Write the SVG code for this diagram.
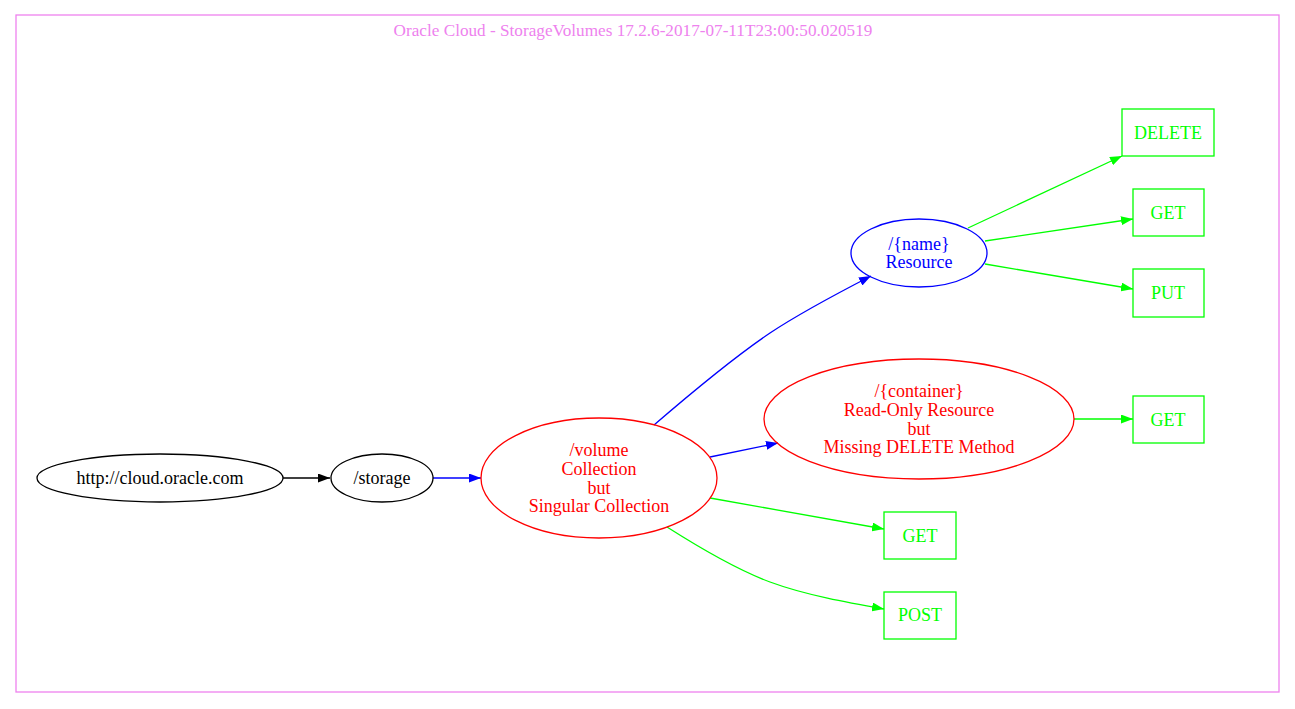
<svg xmlns="http://www.w3.org/2000/svg" width="1295" height="709" viewBox="0 0 1295 709">
<style>
text{font-family:"Liberation Serif","Times New Roman",serif;font-size:18px;text-anchor:middle}
.bk{fill:none;stroke:#000;stroke-width:1.3}
.rd{fill:none;stroke:#ff0000;stroke-width:1.3}
.bl{fill:none;stroke:#0000ff;stroke-width:1.3}
.gr{fill:none;stroke:#00ff00;stroke-width:1.3}
.tbk{fill:#000}.trd{fill:#ff0000}.tbl{fill:#0000ff}.tgr{fill:#00ff00}
</style>
<defs>
<marker id="abk" viewBox="0 0 12 9" refX="12" refY="4.5" markerWidth="12" markerHeight="9" markerUnits="userSpaceOnUse" orient="auto"><path d="M0,0L12,4.5L0,9z" fill="#000"/></marker>
<marker id="abl" viewBox="0 0 12 9" refX="12" refY="4.5" markerWidth="12" markerHeight="9" markerUnits="userSpaceOnUse" orient="auto"><path d="M0,0L12,4.5L0,9z" fill="#0000ff"/></marker>
<marker id="agr" viewBox="0 0 12 9" refX="12" refY="4.5" markerWidth="12" markerHeight="9" markerUnits="userSpaceOnUse" orient="auto"><path d="M0,0L12,4.5L0,9z" fill="#00ff00"/></marker>
</defs>
<rect x="0" y="0" width="1295" height="709" fill="#fff"/>
<g id="cluster">
<rect x="16" y="15" width="1263" height="677" fill="none" stroke="#ee82ee" stroke-width="1.3"/>
<text x="633" y="36" fill="#ee82ee" style="font-size:17.2px">Oracle Cloud - StorageVolumes 17.2.6-2017-07-11T23:00:50.020519</text>
</g>
<g id="connectors">
<path class="bk" d="M283,478L330,478" marker-end="url(#abk)"/>
<path class="bl" d="M433,478L481,478" marker-end="url(#abl)"/>
<path class="bl" d="M654,425C690,394 730,360 770,333C800,313 840,292 871,276" marker-end="url(#abl)"/>
<path class="bl" d="M710,457L778,443" marker-end="url(#abl)"/>
<path class="gr" d="M710,498L884,529" marker-end="url(#agr)"/>
<path class="gr" d="M667,527C700,548 735,569 770,582C805,595 850,603 884,609" marker-end="url(#agr)"/>
<path class="gr" d="M968,228L1122,156" marker-end="url(#agr)"/>
<path class="gr" d="M985,241L1133,219" marker-end="url(#agr)"/>
<path class="gr" d="M985,264L1133,289" marker-end="url(#agr)"/>
<path class="gr" d="M1074,419L1133,419" marker-end="url(#agr)"/>
</g>
<g id="root">
<ellipse class="bk" cx="160" cy="478" rx="123" ry="24"/>
<text class="tbk" x="160" y="484">http://cloud.oracle.com</text>
</g>
<g id="storage">
<ellipse class="bk" cx="382" cy="478" rx="51" ry="24"/>
<text class="tbk" x="382" y="484">/storage</text>
</g>
<g id="volume">
<ellipse class="rd" cx="599" cy="478" rx="118" ry="60"/>
<text class="trd" x="599" y="456">/volume</text>
<text class="trd" x="599" y="475">Collection</text>
<text class="trd" x="599" y="494">but</text>
<text class="trd" x="599" y="512">Singular Collection</text>
</g>
<g id="name">
<ellipse class="bl" cx="919" cy="253" rx="68" ry="34"/>
<text class="tbl" x="919" y="250">/{name}</text>
<text class="tbl" x="919" y="268">Resource</text>
</g>
<g id="container">
<ellipse class="rd" cx="919" cy="419" rx="155" ry="60"/>
<text class="trd" x="919" y="397">/{container}</text>
<text class="trd" x="919" y="416">Read-Only Resource</text>
<text class="trd" x="919" y="435">but</text>
<text class="trd" x="919" y="453">Missing DELETE Method</text>
</g>
<g id="name_delete">
<rect class="gr" x="1122" y="109" width="92" height="47"/>
<text class="tgr" x="1168" y="139">DELETE</text>
</g>
<g id="name_get">
<rect class="gr" x="1133" y="189" width="71" height="47"/>
<text class="tgr" x="1168" y="219">GET</text>
</g>
<g id="name_put">
<rect class="gr" x="1133" y="269" width="71" height="48"/>
<text class="tgr" x="1168" y="299">PUT</text>
</g>
<g id="container_get">
<rect class="gr" x="1133" y="396" width="71" height="47"/>
<text class="tgr" x="1168" y="426">GET</text>
</g>
<g id="volume_get">
<rect class="gr" x="884" y="512" width="72" height="47"/>
<text class="tgr" x="920" y="542">GET</text>
</g>
<g id="volume_post">
<rect class="gr" x="884" y="592" width="72" height="47"/>
<text class="tgr" x="920" y="621">POST</text>
</g>
</svg>
